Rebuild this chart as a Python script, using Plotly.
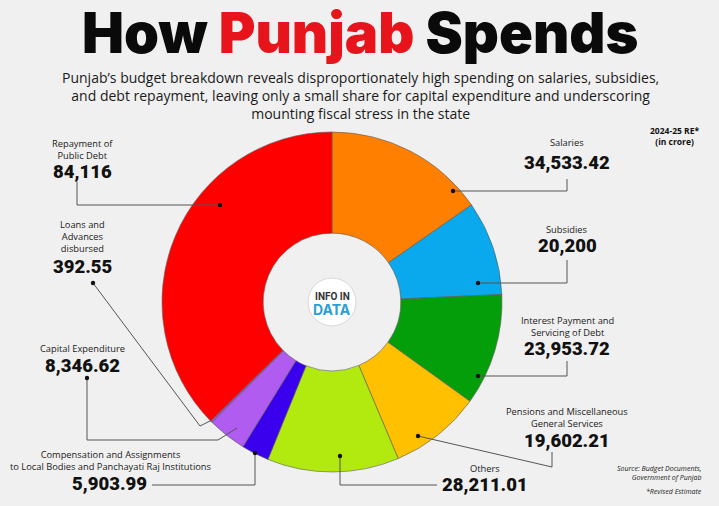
import plotly.graph_objects as go

W, H = 719, 506

categories = ["Salaries", "Subsidies", "Interest Payment and Servicing of Debt",
              "Pensions and Miscellaneous General Services", "Others",
              "Compensation and Assignments to Local Bodies and Panchayati Raj Institutions",
              "Capital Expenditure", "Loans and Advances disbursed", "Repayment of Public Debt"]
values = [34533.42, 20200, 23953.72, 19602.21, 28211.01, 5903.99, 8346.62, 392.55, 84116]
value_labels = ["34,533.42", "20,200", "23,953.72", "19,602.21", "28,211.01",
                "5,903.99", "8,346.62", "392.55", "84,116"]
label_lines = ["Salaries", "Subsidies", "Interest Payment and<br>Servicing of Debt",
               "Pensions and Miscellaneous<br>General Services", "Others",
               "Compensation and Assignments<br>to Local Bodies and Panchayati Raj Institutions",
               "Capital Expenditure", "Loans and<br>Advances<br>disbursed", "Repayment of<br>Public Debt"]
colors = ["#FF7F00", "#0AA8EC", "#049E0A", "#FFC000", "#B2EA10",
          "#3A00EE", "#B15CF0", "#9B4FD6", "#FF0000"]


def px(x):
    return x / W


def py(y):
    return 1 - y / H


fig = go.Figure()
fig.add_trace(go.Pie(
    labels=categories, values=values, sort=False, direction="clockwise", rotation=0,
    hole=0.405, marker=dict(colors=colors, line=dict(color="#5a5a5a", width=0.6)),
    textinfo="none", hoverinfo="label+value", showlegend=False,
    domain=dict(x=[px(162), px(502)], y=[py(472), py(132)]),
))

# (label center x, first label line y, value center x, value y)
label_pos = [
    (567, 143, 567, 163),   # Salaries
    (567, 229, 567, 246),   # Subsidies
    (567, 320, 567, 349),   # Interest
    (567, 411, 567, 441),   # Pensions
    (485, 468, 485, 485),   # Others
    (111, 454, 110, 484),   # Compensation
    (82, 348, 82, 366),     # Capital
    (82, 224, 82, 267),     # Loans
    (82, 143, 82, 172),     # Repayment
]
LINE_H = 12.3

annotations = []
for i, (lx, ly, vx, vy) in enumerate(label_pos):
    nlines = label_lines[i].count("<br>") + 1
    cy = ly + (nlines - 1) * LINE_H / 2
    annotations.append(dict(x=px(lx), y=py(cy), xref="paper", yref="paper",
                            text=label_lines[i], showarrow=False, xanchor="center", yanchor="middle",
                            borderpad=0,
                            font=dict(family="Open Sans", size=9.3, color="#1a1a1a"), align="center"))
    annotations.append(dict(x=px(vx), y=py(vy), xref="paper", yref="paper",
                            text=value_labels[i], showarrow=False, xanchor="center", yanchor="middle",
                            borderpad=0,
                            font=dict(family="Roboto", size=18.5, color="#111111", weight=900)))

# leader lines (pixel paths) and dots
leaders = [
    [(453, 191), (567, 191), (567, 179)],
    [(478, 283), (567, 283), (567, 260)],
    [(478, 376), (567, 376), (567, 361)],
    [(418, 436), (552, 467), (552, 452)],
    [(340, 456), (340, 485), (437, 485)],
    [(255, 453), (255, 485), (152, 485)],
    [(87, 378), (87, 440), (218, 440), (237, 428)],
    [(93, 283), (200, 426), (212, 420)],
    [(220, 205), (77, 205), (77, 182)],
]
dots = [(453, 191), (478, 283), (478, 376), (418, 436), (340, 456), (255, 453),
        (87, 378), (93, 283), (220, 205)]

shapes = []
for path in leaders:
    d = "M " + " L ".join(f"{px(x)},{py(y)}" for x, y in path)
    shapes.append(dict(type="path", path=d, xref="paper", yref="paper",
                       line=dict(color="#555555", width=1)))
for x, y in dots:
    r = 2.2
    shapes.append(dict(type="circle", xref="paper", yref="paper",
                       x0=px(x - r), x1=px(x + r), y0=py(y + r), y1=py(y - r),
                       fillcolor="#111111", line=dict(width=0)))

# logo circle
shapes.append(dict(type="circle", xref="paper", yref="paper",
                   x0=px(332 - 24), x1=px(332 + 24), y0=py(302 + 24), y1=py(302 - 24),
                   fillcolor="white", line=dict(color="#d8d8d8", width=1)))

annotations += [
    dict(x=px(360), y=py(33), xref="paper", yref="paper", showarrow=False, xanchor="center", yanchor="middle",
         borderpad=0,
         text="How <span style='color:#E8141B'>Punjab</span> Spends",
         font=dict(family="Inter", size=56, color="#0a0a0a", weight=900)),
    dict(x=px(360), y=py(95), xref="paper", yref="paper", showarrow=False, xanchor="center", yanchor="middle",
         text="Punjab’s budget breakdown reveals disproportionately high spending on salaries, subsidies,<br>"
              "and debt repayment, leaving only a small share for capital expenditure and underscoring<br>"
              "mounting fiscal stress in the state",
         font=dict(family="Open Sans", size=14, color="#1a1a1a", weight=500), align="center"),
    dict(x=px(674), y=py(136), xref="paper", yref="paper", showarrow=False, xanchor="center", yanchor="middle",
         text="<b>2024-25 RE*<br>(in crore)</b>", font=dict(family="Open Sans", size=8.5, color="#111"),
         align="center"),
    dict(x=px(704), y=py(473), xref="paper", yref="paper", showarrow=False, xanchor="right", yanchor="middle",
         text="<i>Source: Budget Documents,<br>Government of Punjab</i>",
         font=dict(family="Open Sans", size=7, color="#222"), align="right"),
    dict(x=px(704), y=py(491), xref="paper", yref="paper", showarrow=False, xanchor="right", yanchor="middle",
         text="<i>*Revised Estimate</i>", font=dict(family="Open Sans", size=7, color="#222"), align="right"),
    dict(x=px(332), y=py(296), xref="paper", yref="paper", showarrow=False, xanchor="center", yanchor="middle",
         text="<b>INFO IN</b>", font=dict(family="Roboto", size=10, color="#333")),
    dict(x=px(332), y=py(309), xref="paper", yref="paper", showarrow=False, xanchor="center", yanchor="middle",
         text="<b>DATA</b>", font=dict(family="Inter", size=14, color="#2B9FD8", weight=900)),
]

fig.update_layout(
    width=W, height=H, autosize=False,
    margin=dict(l=0, r=0, t=0, b=0),
    paper_bgcolor="#F0F0F0", plot_bgcolor="#F0F0F0",
    annotations=annotations, shapes=shapes,
)

fig.write_html("out.html", config={"displayModeBar": False},
               post_script="document.body.style.margin='0';document.body.style.padding='0';")
